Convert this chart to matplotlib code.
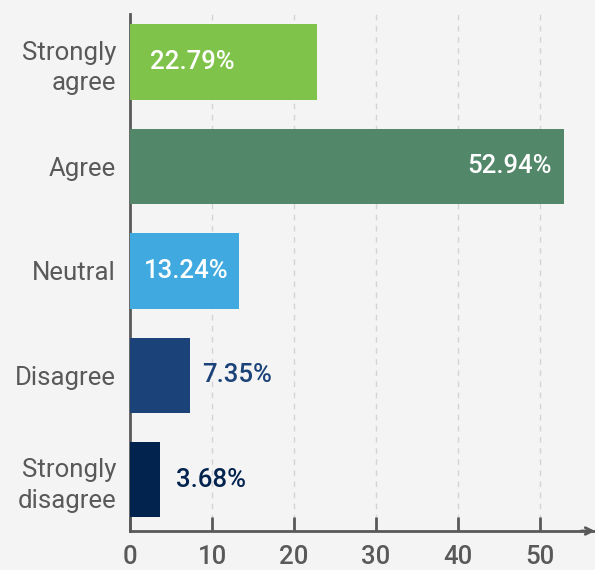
import matplotlib
matplotlib.use("Agg")
import matplotlib.pyplot as plt

plt.rcParams["font.family"] = ["Roboto", "DejaVu Sans"]

# Survey answers, top to bottom
categories = ["Strongly\nagree", "Agree", "Neutral", "Disagree", "Strongly\ndisagree"]
values = [22.79, 52.94, 13.24, 7.35, 3.68]
colors = ["#80c34a", "#52876a", "#40aae0", "#1b4279", "#03234f"]
xticks = [0, 10, 20, 30, 40, 50]

bg = "#f4f4f4"
grey = "#595959"
fs = 18.5

fig = plt.figure(figsize=(5.95, 5.70), dpi=100, facecolor=bg)
ax = fig.add_axes([130 / 595, 1 - 531 / 570, 465 / 595, (531 - 14) / 570])
ax.set_facecolor(bg)

ypos = list(range(len(categories) - 1, -1, -1))
ax.barh(ypos, values, height=0.72, color=colors, zorder=3)

# value labels: inside for the long bars, outside for the short ones
for y, v, c in zip(ypos, values, colors):
    txt = f"{v:.2f}%"
    if v > 40:
        ax.annotate(txt, (v, y), xytext=(-12, 0), textcoords="offset pixels",
                    ha="right", va="center", color="white", fontsize=fs,
                    fontweight="medium", zorder=4)
    elif v > 10:
        ax.annotate(txt, (0, y), xytext=(20 if v > 20 else 14, 0), textcoords="offset pixels",
                    ha="left", va="center", color="white", fontsize=fs,
                    fontweight="medium", zorder=4)
    else:
        ax.annotate(txt, (v, y), xytext=(12 if v > 5 else 16, 0), textcoords="offset pixels",
                    ha="left", va="center", color=c, fontsize=fs,
                    fontweight="medium", zorder=4)

ax.set_xlim(0, 56.7)
ax.set_ylim(-0.49, 4.46)
ax.set_yticks(ypos)
ax.set_yticklabels(categories, fontsize=fs, color=grey, linespacing=1.35)
ax.set_xticks(xticks)
ax.set_xticklabels([str(t) for t in xticks], fontsize=fs, color=grey, fontweight="medium")
ax.tick_params(axis="y", length=0, pad=10)
ax.tick_params(axis="x", direction="in", length=10, width=2, color=grey, pad=10)

for x in xticks[1:]:
    ax.axvline(x, color="#d4d4d4", lw=1, ls=(0, (4, 4)), zorder=1)

for s in ["top", "right"]:
    ax.spines[s].set_visible(False)
for s in ["left", "bottom"]:
    ax.spines[s].set_color(grey)
    ax.spines[s].set_linewidth(2)

ax.annotate("", xy=(1.0, 0), xytext=(0.97, 0), xycoords="axes fraction",
            arrowprops=dict(arrowstyle="->", color=grey, lw=2,
                            shrinkA=0, shrinkB=0, mutation_scale=12),
            annotation_clip=False)

fig.savefig("out.png", dpi=100, facecolor=bg)
